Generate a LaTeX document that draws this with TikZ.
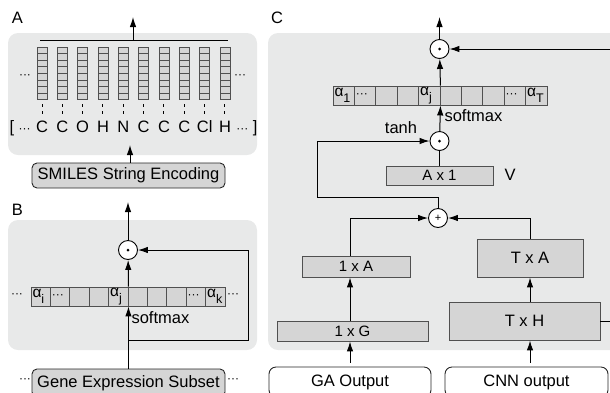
\documentclass[tikz,border=0pt]{standalone}
\usepackage{fontspec}
\setmainfont{Liberation Sans}
\usetikzlibrary{arrows.meta}

\definecolor{panelgray}{RGB}{232,233,233}
\definecolor{boxgray}{RGB}{213,213,213}
\definecolor{edgegray}{RGB}{80,80,80}
\def\cwB{19.4}
\def\cwC{21.4}
\newcommand\alw[1]{{\fontsize{15.5}{15.5}\selectfont α}\raisebox{-5.5pt}{\fontsize{12.5}{12.5}\selectfont #1}}
\newcommand\sdots{{\fontsize{12}{12}\selectfont ···}}

\tikzset{
  panel/.style={fill=panelgray,rounded corners=10pt},
  cell/.style={draw=edgegray,fill=boxgray,line width=0.9pt,inner ysep=0pt,inner xsep=1.5pt,minimum height=19pt,align=left},
  layer/.style={draw=edgegray,fill=boxgray,line width=0.9pt,inner sep=0pt},
  inbox/.style={draw=black!85,line width=0.9pt,rounded corners=7pt,inner sep=0pt,minimum height=30pt},
  op/.style={circle,draw,fill=white,line width=0.9pt,minimum size=19pt,inner sep=0pt},
  tick/.style={dash pattern=on 3pt off 4pt},
}

\begin{document}
\begin{tikzpicture}[x=1pt,y=-1pt,>={Latex[length=10pt,width=6.5pt]},line width=1pt,font=\fontsize{16.5}{18}\selectfont]
\useasboundingbox (0,0) rectangle (610,392);

\fill[panel] (8,33) rectangle (257,155);
\fill[panel] (8,220) rectangle (257,350);
\fill[panel] (268,33) rectangle (640,350);

\node (labA) at (17.5,17.5) {A};
\node (labB) at (17.5,210) {B};
\node (labC) at (277,17.5) {C};

% A: SMILES embedding
\foreach \a [count=\i from 0] in {C,C,O,H,N,C,C,C,Cl,H}{
  \pgfmathsetmacro\cx{42+20.33*\i}
  \foreach \k in {0,...,7}
    \draw[layer] (\cx-5,47+6.6*\k) rectangle ++(10,6.6);
  \coordinate (col\i) at (\cx,100);
  \node[anchor=base,inner sep=0pt,text height=12pt] (atom\i) at (\cx,132) {\a};
  \draw[tick,shorten <=4pt,shorten >=3pt] (col\i) -- (atom\i.north);
}
\node[anchor=base west,inner sep=0pt] (brL) at (9,132) {[ \sdots};
\node[anchor=base east,inner sep=0pt] (brR) at (258,132) {\sdots\ ]};
\node (dotsA1) at (25,77) {\sdots};
\node (dotsA2) at (240,77) {\sdots};
\coordinate (topL) at (40,40);
\coordinate (topR) at (228,40);
\coordinate (outA) at (133,17);
\draw (topL) -- (topR);
\draw[->] (topL -| outA) -- (outA);
\node[inbox,fill=boxgray,minimum width=193pt,minimum height=25pt,rounded corners=5pt] (smiles) at (128.5,175.5) {SMILES String Encoding};
\coordinate (inA) at (130,145);
\draw[->] (smiles.north -| inA) -- (inA);

% B: gene attention
\foreach \t [count=\i from 0] in {{\alw{i}},{\sdots},{},{},{\alw{j}},{},{},{},{\sdots},{\alw{k}}}
  \node[cell,minimum width=\cwB,text width=\cwB-3] (b\i) at (31+\cwB*\i+\cwB/2,296.5) {\t};
\node (dotsB1) at (17,296) {\sdots};
\node (dotsB2) at (233,296) {\sdots};
\node[op] (dotB) at (128,250) {};
\coordinate (outB) at (128,202);
\draw[->] (dotB) -- (outB);
\draw[->] (b4.north east) -- (dotB);
\node[inbox,fill=boxgray,minimum width=193pt,minimum height=28pt,rounded corners=5pt] (gene) at (128.5,383) {Gene Expression Subset};
\node (dotsG1) at (25,381) {\sdots};
\node (dotsG2) at (233,381) {\sdots};
\coordinate (loopB) at (248,340);
\draw[->] (gene.north -| b4.east) -- (b4.south east);
\draw[->] (b4.east |- loopB) -- (loopB) |- (dotB.east);
\node[anchor=west,inner sep=0pt] (smB) at (131,318) {softmax};

% C: contextual attention
\foreach \t [count=\i from 0] in {{\alw{1}},{\sdots},{},{},{\alw{j}},{},{},{},{\sdots},{\alw{T}}}
  \node[cell,minimum width=\cwC,text width=\cwC-3] (c\i) at (333+\cwC*\i+\cwC/2,95.5) {\t};
\node[op] (dotC) at (439.5,49) {};
\coordinate (outC) at (439.5,17);
\draw[->] (dotC) -- (outC);
\draw[->] (c4.north east) -- (dotC);
\node[op] (tanhC) at (439.5,141) {};
\draw[->] (tanhC) -- (c4.south east);
\foreach \n in {dotB,dotC,tanhC}
  \fill (\n) circle (1.5pt);
\node[anchor=west,inner sep=0pt] (smC) at (444,116) {softmax};
\node (tanhL) at (401,128) {tanh};
\node[layer,minimum width=107pt,minimum height=19pt,font=\fontsize{15}{15}\selectfont] (ax1) at (439.5,175.5) {A x 1};
\node (vL) at (510,175) {V};
\draw (ax1) -- (tanhC);
\node[op] (plusC) at (438,218) {\fontsize{11}{11}\selectfont +};
\coordinate (fbC) at (317,197);
\draw[->] (plusC.north) -- (plusC.north |- fbC) -- (fbC) |- (tanhC.west);

\node[layer,minimum width=108pt,minimum height=21pt,font=\fontsize{15}{15}\selectfont] (oneA) at (356,266.5) {1 x A};
\node[layer,minimum width=151pt,minimum height=20pt,font=\fontsize{15}{15}\selectfont] (oneG) at (352.5,331) {1 x G};
\node[inbox,fill=white,minimum width=162pt] (ga) at (350,382) {GA Output};
\draw[->,shorten <=4pt] (ga.north) -- (ga.north |- oneG.south);
\draw[->] (ga.north |- oneG.north) -- (ga.north |- oneA.south);
\draw[->] (ga.north |- oneA.north) |- (plusC.west);

\node[layer,minimum width=106pt,minimum height=38pt] (txA) at (530,258) {T x A};
\node[layer,minimum width=151pt,minimum height=38pt] (txH) at (524.5,321) {T x H};
\node[inbox,fill=white,minimum width=163pt] (cnn) at (526.5,382) {CNN output};
\draw[->,shorten <=4pt] (cnn.north -| txA) -- (txA |- txH.south);
\draw[->] (txA |- txH.north) -- (txA.south);
\draw[->] (txA.north) |- (plusC.east);
\coordinate (rightC) at (620,321);
\draw[->] (txH.east) -- (rightC) |- (dotC.east);
\end{tikzpicture}
\end{document}
